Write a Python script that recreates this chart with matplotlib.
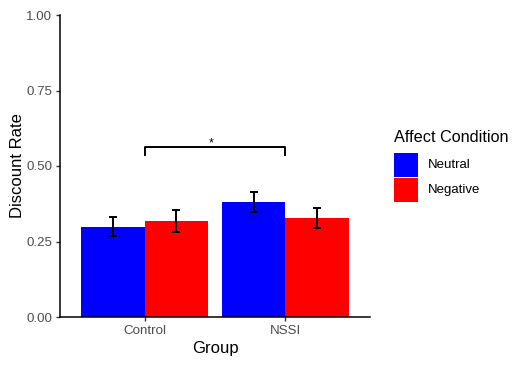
import numpy as np
import matplotlib
matplotlib.use("Agg")
import matplotlib.pyplot as plt
from matplotlib.patches import Rectangle

plt.rcParams['font.family'] = ['Liberation Sans', 'DejaVu Sans']

groups = ['Control', 'NSSI']
conditions = ['Neutral', 'Negative']
colors = ['#0000FF', '#FF0000']
means = {'Neutral': [0.299, 0.382], 'Negative': [0.319, 0.328]}
errors = {'Neutral': [0.032, 0.033], 'Negative': [0.036, 0.033]}
yticks = [0.00, 0.25, 0.50, 0.75, 1.00]

W, H = 518, 366
fig = plt.figure(figsize=(W / 100, H / 100), dpi=100)
ax = fig.add_axes([60/W, 1 - 317/H, 310/W, 302/H])

x = np.arange(1, len(groups) + 1)
w = 0.45
for i, cond in enumerate(conditions):
    pos = x + (i - 0.5) * w
    ax.bar(pos, means[cond], width=w, color=colors[i], linewidth=0, label=cond)
    ax.errorbar(pos, means[cond], yerr=errors[cond], fmt='none', ecolor='black',
                elinewidth=1.4, capsize=2.6, capthick=1.4)

# significance bracket
by, bh = 0.562, 0.027
ax.plot([1, 1, 2, 2], [by - bh, by, by, by - bh], color='black', lw=1.4)
ax.text(1.47, by + 0.012, '*', ha='center', va='center', fontsize=9)

ax.set_xlim(0.4, 2.6)
ax.set_ylim(0, 1.0)
ax.set_xticks(x)
ax.set_xticklabels(groups)
ax.set_yticks(yticks)
ax.set_yticklabels([f'{v:.2f}' for v in yticks])
for s in ['top', 'right']:
    ax.spines[s].set_visible(False)
for s in ['left', 'bottom']:
    ax.spines[s].set_linewidth(1.1)
ax.tick_params(colors='#333333', labelcolor='#4D4D4D', labelsize=9.6, length=3, width=1, pad=2.5)
ax.set_xlabel('Group', fontsize=12, labelpad=3)
ax.set_ylabel('Discount Rate', fontsize=12, labelpad=1)

# legend (drawn by hand to get ggplot-style touching keys)
fig.text(394/W, 1 - 142/H, 'Affect Condition', fontsize=11.7, ha='left', va='baseline')
key = 24
for i, cond in enumerate(conditions):
    top = 153.3 + i * (key + 0.8)
    fig.add_artist(Rectangle((394/W, 1 - (top + key)/H), key/W, key/H,
                             transform=fig.transFigure, facecolor=colors[i], edgecolor='none'))
    fig.text(428/W, 1 - (top + key/2)/H, cond, fontsize=9.5, ha='left', va='center')

fig.savefig('out.png', dpi=100)
